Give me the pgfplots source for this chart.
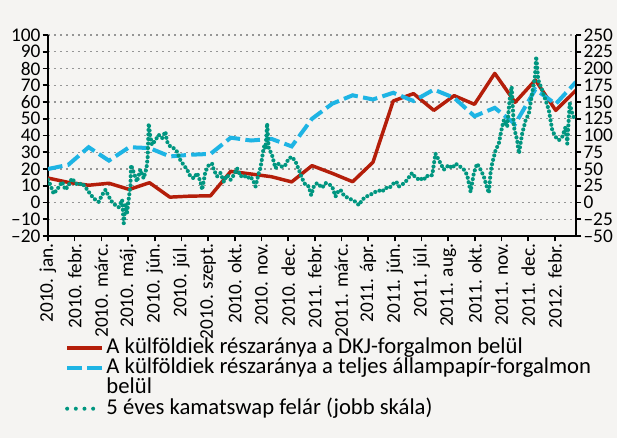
\documentclass[border=0pt]{standalone}
\usepackage{fontspec}
\setmainfont{Carlito}
\usepackage{xcolor}
\usepackage{pgfplots}
\usepackage{pgfplotstable}
\pgfplotsset{compat=1.18}
\definecolor{bgcol}{RGB}{245,244,242}
\definecolor{dkjred}{RGB}{180,30,10}
\definecolor{allblue}{RGB}{30,180,228}
\definecolor{swapgreen}{RGB}{0,150,128}
\definecolor{gridgray}{RGB}{150,150,150}
\pagecolor{bgcol}

% monthly shares (%), month 0 = 2010 jan
\pgfplotstableread{
m dkj total
0 14.6 20.0
1 12.0 22.5
2 10.3 33.0
3 11.5 25.0
4 7.8 33.0
5 11.8 32.5
6 3.2 27.5
7 3.8 28.5
8 4.0 29.0
9 18.6 38.7
10 17.0 37.0
11 15.4 38.0
12 12.3 33.5
13 22.0 50.0
14 17.4 59.0
15 12.4 64.0
16 24.0 61.5
17 60.6 65.5
18 65.0 60.6
19 55.0 67.4
20 63.8 62.5
21 58.6 51.5
22 77.1 56.5
23 59.8 46.8
24 73.1 67.5
25 55.0 58.8
26 67.0 72.0
}\monthly

% 5y swap spread (bp)
\pgfplotstableread{
m bp
0.00 34
0.12 26
0.28 13
0.53 23
0.69 31
0.86 19
1.02 26
1.18 36
1.35 29
1.51 26
1.67 29
1.84 23
2.00 16
2.25 6
2.50 1
2.66 11
2.83 19
2.99 9
3.15 1
3.32 -4
3.48 -7
3.65 4
3.73 -31
3.81 -4
3.89 -16
4.06 26
4.09 56
4.22 45
4.38 31
4.55 49
4.71 36
4.85 51
4.91 68
4.96 118
5.04 98
5.12 86
5.29 93
5.45 101
5.62 96
5.78 106
5.86 91
6.03 83
6.19 81
6.35 76
6.52 63
6.68 56
6.85 49
7.01 39
7.18 36
7.34 44
7.51 31
7.59 19
7.75 46
7.92 56
8.08 58
8.16 49
8.33 39
8.49 44
8.66 31
8.82 41
8.99 34
9.15 41
9.31 51
9.48 39
9.64 41
9.80 36
9.97 39
10.13 31
10.22 24
10.30 34
10.38 44
10.46 51
10.54 66
10.59 76
10.66 86
10.71 81
10.76 101
10.79 118
10.87 81
11.03 71
11.20 51
11.36 58
11.53 53
11.69 56
11.86 66
12.02 68
12.19 61
12.35 49
12.51 36
12.68 26
12.84 24
12.96 11
13.09 24
13.25 29
13.50 22
13.67 29
13.85 27
13.99 24
14.16 9
14.28 16
14.40 19
14.56 11
14.65 9
14.81 6
14.98 4
15.14 1
15.22 -1
15.31 -4
15.47 4
15.55 6
15.80 11
15.97 13
16.13 16
16.30 18
16.45 16
16.62 22
16.78 21
16.95 26
17.03 29
17.15 31
17.28 24
17.45 27
17.61 31
17.78 38
17.93 44
18.05 39
18.18 36
18.30 33
18.42 36
18.51 34
18.63 40
18.75 39
18.92 41
19.08 73
19.25 63
19.49 49
19.74 56
19.90 51
20.07 58
20.32 53
20.48 49
20.64 41
20.81 16
20.97 44
21.13 58
21.30 49
21.46 39
21.55 29
21.71 14
21.79 44
21.87 58
22.04 78
22.20 88
22.36 113
22.45 123
22.61 113
22.73 153
22.83 173
22.94 113
23.10 93
23.19 73
23.35 103
23.52 123
23.68 133
23.84 163
23.98 188
24.04 218
24.14 183
24.33 168
24.50 153
24.66 138
24.83 108
24.99 98
25.16 93
25.32 98
25.49 113
25.57 88
25.69 148
25.81 133
25.90 126
}\swap

\begin{document}
\begin{tikzpicture}[font=\fontsize{17}{18}\selectfont]
\pgfplotsset{
  every axis/.append style={
    width=396pt, height=150.75pt, scale only axis,
    xmin=0, xmax=26,
    xtick={0,1.314,2.628,3.941,5.255,6.569,7.883,9.196,10.51,11.824,13.138,14.451,15.765,17.079,18.393,19.706,21.02,22.334,23.648,24.961},
    tick align=outside,
    major tick length=4pt,
    axis line style={line width=1.6pt},
    every tick/.style={black, line width=1.2pt},
    tick label style={font=\fontsize{14.5}{15}\selectfont, inner ysep=0pt},
    yticklabel style={inner xsep=1.5pt},
  }
}
\begin{axis}[
  axis x line*=bottom, axis y line*=left,
  ymin=-20, ymax=100,
  ytick={-20,-10,0,10,20,30,40,50,60,70,80,90,100},
  yticklabels={--20,--10,0,10,20,30,40,50,60,70,80,90,100},
  xticklabels={2010. jan.,2010. febr.,2010. márc.,2010. máj.,2010. jún.,2010. júl.,2010. szept.,2010. okt.,2010. nov.,2010. dec.,2011. febr.,2011. márc.,2011. ápr.,2011. jún.,2011. júl.,2011. aug.,2011. okt.,2011. nov.,2011. dec.,2012. febr.},
  xticklabel style={rotate=90, anchor=east, inner xsep=1.5pt},
  ymajorgrids,
  grid style={gridgray, dash pattern=on 1.5pt off 3pt, line width=0.8pt},
  legend style={at={(0.032,-0.505)}, anchor=north west, draw=none, fill=none,
    inner sep=0pt, row sep=0pt,
    nodes={inner ysep=0pt, text height=11.6pt, text depth=3.6pt},
    font=\fontsize{17}{18}\selectfont,
    legend image code/.code={\draw[#1] (0pt,0pt) -- (26pt,0pt);}},
  legend cell align=left,
]
\addplot[dkjred, line width=2.6pt, line join=round] table[x=m,y=dkj]{\monthly};
\addlegendentry{A külföldiek részaránya a DKJ-forgalmon belül}
\addplot[allblue, line width=3pt, dash pattern=on 11pt off 4pt] table[x=m,y=total]{\monthly};
\addlegendentry{A külföldiek részaránya a teljes állampapír-forgalmon}
\addlegendimage{empty legend}
\addlegendentry{belül}
\addlegendimage{swapgreen, line width=3pt, line cap=round, dash pattern=on 0pt off 6.5pt}
\addlegendentry{5 éves kamatswap felár (jobb skála)}
\node[xshift=-15pt, yshift=15pt] at (rel axis cs:0,1) {\%};
\node[anchor=east, xshift=-2pt, yshift=14pt] at (rel axis cs:1,1) {Bázispont};
\coordinate (BL) at (rel axis cs:0,0);
\coordinate (TR) at (rel axis cs:1,1);
\end{axis}
\begin{axis}[
  axis x line=none, axis y line*=right,
  ymin=-50, ymax=250,
  ytick={-50,-25,0,25,50,75,100,125,150,175,200,225,250},
  yticklabels={--50,--25,0,25,50,75,100,125,150,175,200,225,250},
]
\addplot[swapgreen, line width=3.1pt, line cap=round, line join=round, dash pattern=on 0pt off 3.4pt] table[x=m,y=bp]{\swap};
\end{axis}
\pgfresetboundingbox
\path ([shift={(-36pt,-151.5pt)}]BL) rectangle ([shift={(30.75pt,26.25pt)}]TR);
\end{tikzpicture}
\end{document}
